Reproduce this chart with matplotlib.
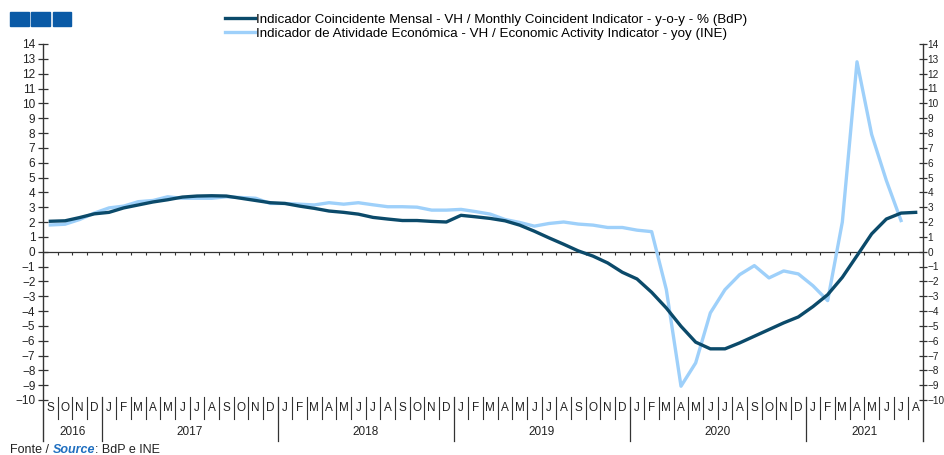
import matplotlib
matplotlib.use("Agg")
import matplotlib.pyplot as plt
import numpy as np
from matplotlib.transforms import blended_transform_factory
from matplotlib.patches import Rectangle

plt.rcParams['font.family'] = ['Liberation Sans', 'DejaVu Sans']

months = ["S", "O", "N", "D"] + ["J", "F", "M", "A", "M", "J", "J", "A", "S", "O", "N", "D"] * 4 + \
         ["J", "F", "M", "A", "M", "J", "J", "A"]
years = ["2016", "2017", "2018", "2019", "2020", "2021"]
year_months = [4, 12, 12, 12, 12, 8]

bdp = [2.05, 2.08, 2.3, 2.55,
       2.65, 2.95, 3.15, 3.35, 3.5, 3.68, 3.75, 3.77, 3.75, 3.6, 3.45, 3.3,
       3.25, 3.07, 2.92, 2.74, 2.65, 2.53, 2.31, 2.2, 2.1, 2.1, 2.04, 2.0,
       2.45, 2.35, 2.24, 2.08, 1.79, 1.38, 0.93, 0.5, 0.05, -0.3, -0.76, -1.39,
       -1.84, -2.74, -3.8, -5.03, -6.1, -6.55, -6.55, -6.15, -5.7, -5.25, -4.8, -4.4,
       -3.7, -2.9, -1.73, -0.27, 1.2, 2.2, 2.6, 2.65]
ine = [1.8, 1.85, 2.17, 2.6,
       2.95, 3.07, 3.37, 3.45, 3.7, 3.6, 3.6, 3.6, 3.7, 3.65, 3.6, 3.25,
       3.25, 3.2, 3.15, 3.3, 3.2, 3.3, 3.16, 3.03, 3.03, 3.0, 2.8, 2.8,
       2.85, 2.7, 2.53, 2.17, 1.97, 1.72, 1.9, 2.0, 1.86, 1.79, 1.63, 1.63,
       1.45, 1.35, -2.56, -9.07, -7.5, -4.13, -2.56, -1.55, -0.94, -1.77, -1.3, -1.5,
       -2.3, -3.3, 2.0, 12.8, 7.9, 4.8, 2.1, np.nan]

label_bdp = "Indicador Coincidente Mensal - VH / Monthly Coincident Indicator - y-o-y - % (BdP)"
label_ine = "Indicador de Atividade Económica - VH / Economic Activity Indicator - yoy (INE)"

W, H = 944, 455
fig = plt.figure(figsize=(W / 100, H / 100), dpi=100)
ax_left, ax_right_px, ax_top, ax_bot = 43, 923, 44, 400
ax = fig.add_axes([ax_left / W, 1 - ax_bot / H, (ax_right_px - ax_left) / W, (ax_bot - ax_top) / H])

n = len(months)
x = np.arange(n)
dark = '#0b4a6a'
light = '#9ed0fa'
ax.plot(x, ine, color=light, lw=2.4, zorder=3, label=label_ine)
ax.plot(x, bdp, color=dark, lw=2.4, zorder=4, label=label_bdp)

ax.set_xlim(-0.5, n - 0.5)
ax.set_ylim(-10, 14)
for s in ax.spines.values():
    s.set_visible(False)

ax.set_yticks(range(-10, 15))
ax.tick_params(axis='y', direction='inout', length=7, width=0.9, color='#333333',
               labelsize=8.5, pad=2, labelcolor='#222222')
ax.set_xticks([])

ax2 = ax.twinx()
ax2.set_ylim(-10, 14)
for s in ax2.spines.values():
    s.set_visible(False)
ax2.set_yticks(range(-10, 15))
ax2.tick_params(axis='y', direction='inout', length=6, width=0.9, color='#333333',
                labelsize=7.2, pad=0.2, labelcolor='#222222')

# zero line with small month ticks
ax.axhline(0, color='#333333', lw=0.9, zorder=2)
ax.vlines(np.arange(n + 1) - 0.5, -0.22, 0, color='#333333', lw=0.8, zorder=2)

axh = ax_bot - ax_top
def fy(py):
    return (ax_bot - py) / axh

tr = blended_transform_factory(ax.transData, ax.transAxes)
for xv in (-0.5, n - 0.5):
    ax.plot([xv, xv], [1, fy(441)], transform=tr, color='#333333', lw=1.0, clip_on=False, zorder=5)

year_bounds = np.cumsum(year_months)
for i, m in enumerate(months):
    ax.text(i, fy(408), m, transform=tr, ha='center', va='center', fontsize=8.5,
            color='#222222', clip_on=False)
for b in range(1, n):
    if b in year_bounds:
        ax.plot([b - 0.5, b - 0.5], [fy(397), fy(441)], transform=tr, color='#333333',
                lw=0.9, clip_on=False)
    else:
        ax.plot([b - 0.5, b - 0.5], [fy(397), fy(419)], transform=tr, color='#333333',
                lw=0.8, clip_on=False)
start = 0
for yname, cnt in zip(years, year_months):
    ax.text(start + cnt / 2 - 0.5, fy(432), yname, transform=tr, ha='center', va='center',
            fontsize=8.5, color='#222222', clip_on=False)
    start += cnt

# legend
leg = fig.legend(handles=[ax.lines[1], ax.lines[0]], loc='upper left',
                 bbox_to_anchor=(220 / W, 1 - 8 / H), frameon=False, fontsize=9.6,
                 handlelength=2.2, handletextpad=0.1, labelspacing=0.12, borderaxespad=0)

# blue squares top-left
for k in range(3):
    fig.patches.append(Rectangle(((10 + k * 21.3) / W, 1 - 26 / H), 18.6 / W, 14 / H,
                                 transform=fig.transFigure, color='#0a5aa6', zorder=1))

# source line
fig.canvas.draw()
renderer = fig.canvas.get_renderer()
xpos = 10
parts = [("Fonte / ", '#222222', 'normal', 'normal'),
         ("Source", '#1f6fc0', 'bold', 'italic'),
         (": BdP e INE", '#222222', 'normal', 'normal')]
for txt, col, fw, fs in parts:
    t = fig.text(xpos / W, 1 - 450 / H, txt, fontsize=9, color=col, va='center',
                 fontweight=fw, fontstyle=fs)
    bb = t.get_window_extent(renderer=renderer)
    xpos += bb.width

fig.savefig("out.png", dpi=100)
